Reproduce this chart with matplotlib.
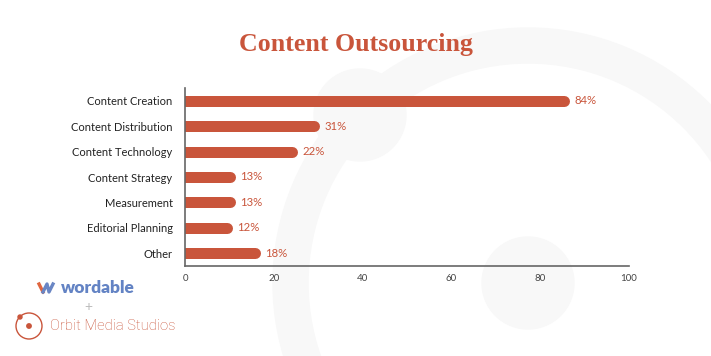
import matplotlib
matplotlib.use("Agg")
import matplotlib.pyplot as plt
from matplotlib.patches import Circle, Wedge
from matplotlib.transforms import IdentityTransform

# data
categories = ['Content Creation', 'Content Distribution', 'Content Technology',
              'Content Strategy', 'Measurement', 'Editorial Planning', 'Other']
bar_lengths = [86.6, 30.4, 25.3, 11.4, 11.4, 10.7, 16.9]
pct_labels = ['84%', '31%', '22%', '13%', '13%', '12%', '18%']
x_ticks = [0, 20, 40, 60, 80, 100]

ROJO = '#c9553b'
W, H = 711, 356

fig = plt.figure(figsize=(W / 100, H / 100), dpi=100)
fig.patch.set_facecolor('white')

def px(x, y):
    # pixel coords from top-left -> display coords
    return (x, H - y)

# fondo: logo orbit en gris muy claro
bg = '#f8f8f8'
tr = IdentityTransform()
fig.patches.append(Wedge(px(528, 283), 255, 0, 360, width=35, color=bg,
                         transform=tr, zorder=-5))
fig.patches.append(Circle(px(360, 115), 46, color=bg, transform=tr, zorder=-5))
fig.patches.append(Circle(px(528, 283), 46, color=bg, transform=tr, zorder=-5))

ax = fig.add_axes([185 / W, 1 - 266 / H, 444 / W, 178 / H])
ax.patch.set_alpha(0)

# barras con punta redondeada
px_per_unit = 444 / 100
bar_px = 11
r = (bar_px / 2) / px_per_unit
lw = bar_px * 72 / 100
for i, (v, lab) in enumerate(zip(bar_lengths, pct_labels)):
    ax.plot([0, v - r], [i, i], color=ROJO, lw=lw, solid_capstyle='round')
    ax.text(v + 1.1, i, lab, ha='left', va='center', fontsize=8.2,
            color=ROJO, family='Lato')

ax.set_xlim(0, 100)
ax.set_ylim(6.5, -0.5)
ax.set_yticks(range(len(categories)))
ax.set_yticklabels(categories, fontsize=8, color='#222222', family='Lato')
ax.set_xticks(x_ticks)
ax.set_xticklabels([str(t) for t in x_ticks], fontsize=7, color='#444444', family='Lato')
ax.tick_params(axis='both', length=0)
ax.tick_params(axis='y', pad=9)
ax.tick_params(axis='x', pad=6)
for s in ['top', 'right']:
    ax.spines[s].set_visible(False)
for s in ['left', 'bottom']:
    ax.spines[s].set_color('#666666')
    ax.spines[s].set_linewidth(1.2)

# titulo
fig.text(0.5, 1 - 44 / H, 'Content Outsourcing', ha='center', va='center',
         fontsize=18.6, fontweight='bold', color=ROJO, family='Liberation Serif')

# logos
fig.lines.append(plt.Line2D([39, 43], [H - 284, H - 292], color='#e0663f', lw=2.4, transform=tr))
fig.lines.append(plt.Line2D([43, 47, 49, 53], [H - 292, H - 284, H - 292, H - 284],
                            color='#6a86c4', lw=2.4, transform=tr))
fig.text(61 / W, 1 - 288 / H, 'wordable', ha='left', va='center', fontsize=12.5,
         fontweight='heavy', color='#6383c4', family='Lato')
fig.text(88 / W, 1 - 307 / H, '+', ha='center', va='center', fontsize=10,
         color='#bbbbbb', family='Lato')
fig.patches.append(Circle(px(29, 326), 13, fill=False, ec=ROJO, lw=1.0, transform=tr))
fig.patches.append(Circle(px(29, 326), 2.2, color=ROJO, transform=tr))
fig.patches.append(Circle(px(20, 317), 2.0, color=ROJO, transform=tr))
fig.text(50 / W, 1 - 326 / H, 'Orbit Media Studios', ha='left', va='center',
         fontsize=10.6, fontweight='light', color=ROJO, family='Roboto')

plt.savefig('out.png', dpi=100)
